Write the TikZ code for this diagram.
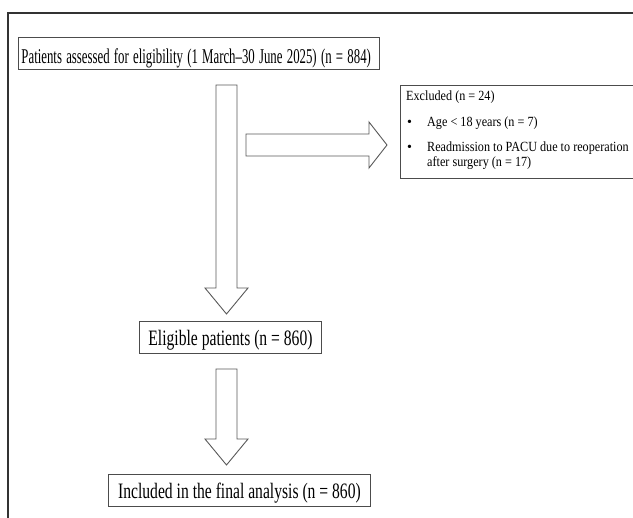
\documentclass[tikz,border=0pt]{standalone}
\usepackage{fontspec}
\setmainfont{Liberation Serif}
\usepackage{graphicx}

\tikzset{
  flowbox/.style={draw=black!70, line width=0.9pt, rectangle, inner xsep=0pt, inner ysep=0pt, anchor=north west},
  blockarrow/.style={draw=black!65, line width=0.9pt, fill=white, line join=miter},
  exclabel/.style={anchor=base west, inner sep=0pt, font=\fontsize{14}{16}\selectfont},
}
\newcommand{\squeeze}[2]{\scalebox{#1}[1]{#2}}

\begin{document}
\begin{tikzpicture}[x=1pt, y=-1pt]
  \useasboundingbox (0,0) rectangle (633,518);
  % outer frame, runs off the page to the right and bottom
  \draw[line width=1.4pt, black!80] (8,530) -- (8,13) -- (650,13);

  % Patients assessed
  \node[flowbox, text width=355pt, align=left, inner xsep=3pt, text height=26pt, text depth=6pt,
        font=\fontsize{21}{24}\selectfont] (assessed) at (18,37)
        {\squeeze{0.61}{Patients assessed for eligibility (1 March--30 June 2025) (n = 884)}};

  % Eligible patients
  \node[flowbox, minimum width=182pt, text height=24pt, text depth=8pt,
        font=\fontsize{22}{24}\selectfont] (eligible) at (139,321)
        {\squeeze{0.71}{Eligible patients (n = 860)}};

  % Final analysis
  \node[flowbox, minimum width=262pt, text height=24pt, text depth=8pt,
        font=\fontsize{22}{24}\selectfont] (included) at (108,474)
        {\squeeze{0.71}{Included in the final analysis (n = 860)}};

  % Excluded box (right side off the page)
  \node[flowbox, minimum width=260pt, minimum height=93pt] (excluded) at (400,85) {};
  \node[exclabel] (exchead) at (406,101) {\squeeze{0.87}{Excluded (n = 24)}};
  \node[exclabel] (bulletA) at (407,127) {•};
  \node[exclabel] (reasonA) at (427,127) {\squeeze{0.87}{Age < 18 years (n = 7)}};
  \node[exclabel] (bulletB) at (407,152) {•};
  \node[exclabel] (reasonB) at (427,152) {\squeeze{0.87}{Readmission to PACU due to reoperation}};
  \node[exclabel] (reasonC) at (427,167) {\squeeze{0.87}{after surgery (n = 17)}};

  % block arrow down to eligible
  \draw[blockarrow] (216,85) -- (237,85) -- (237,288) -- (248,288) -- (226.5,314)
        -- (205,288) -- (216,288) -- cycle;
  % block arrow to excluded
  \draw[blockarrow] (246,134) -- (369,134) -- (369,122) -- (387,145) -- (369,168)
        -- (369,156) -- (246,156) -- cycle;
  % block arrow down to final analysis
  \draw[blockarrow] (216,369) -- (237,369) -- (237,439) -- (248,439) -- (226.5,465)
        -- (205,439) -- (216,439) -- cycle;
\end{tikzpicture}
\end{document}
